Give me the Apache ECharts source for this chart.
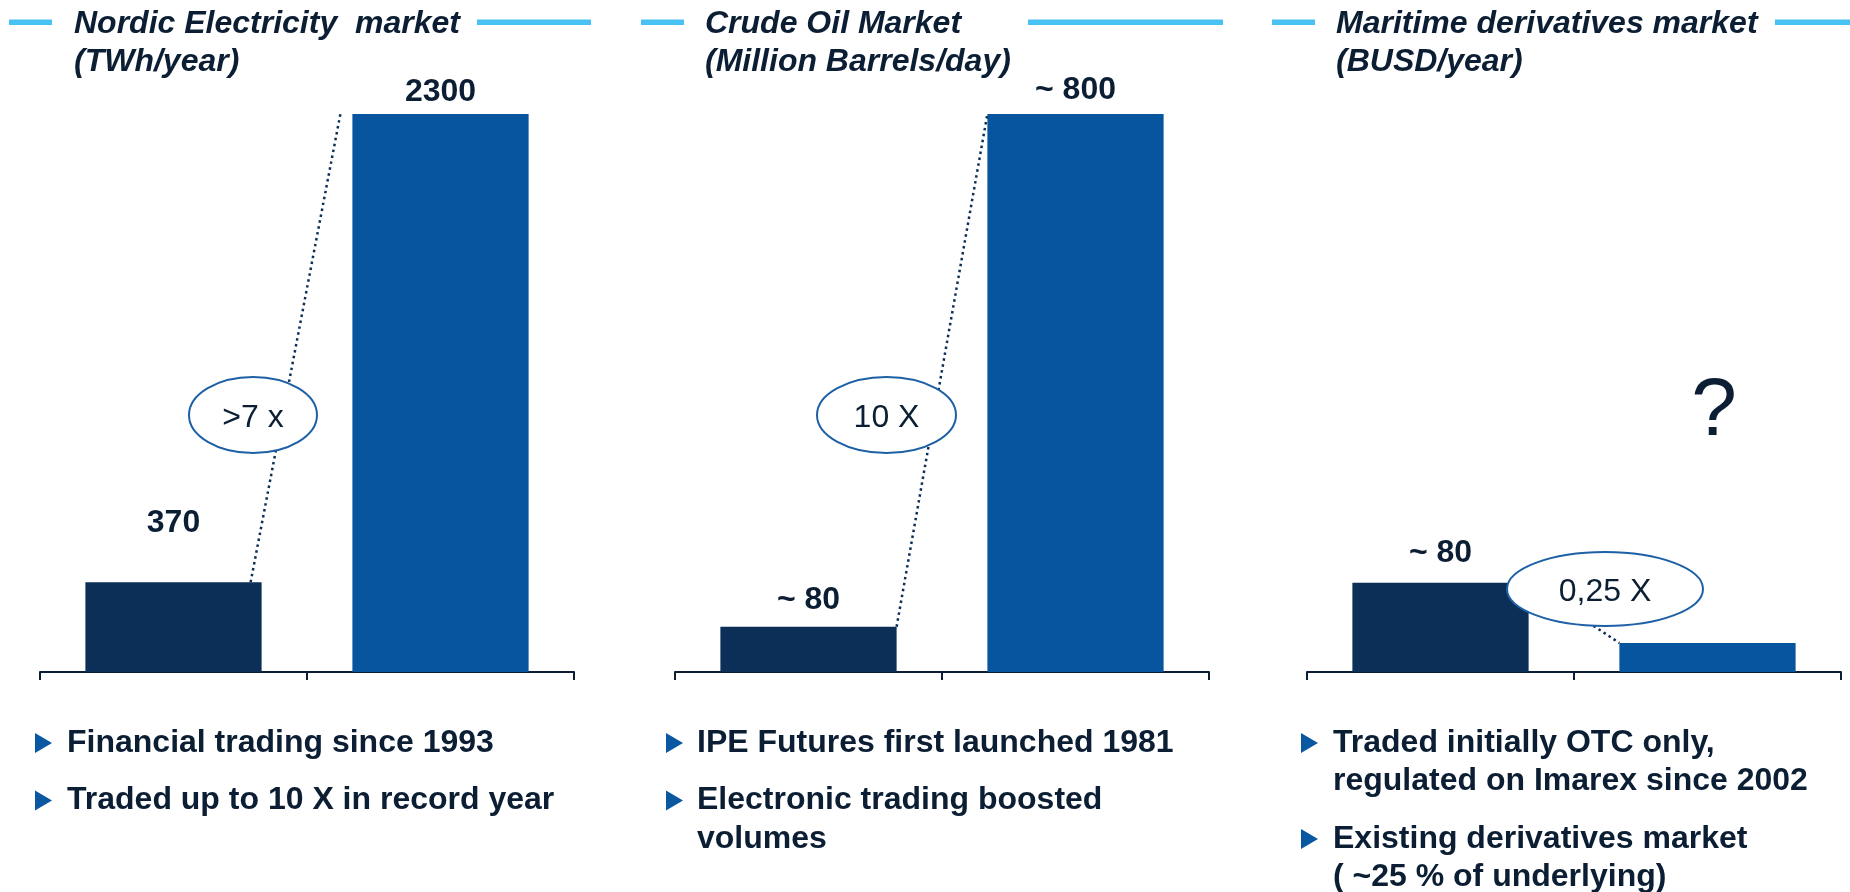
<!DOCTYPE html>
<html><head><meta charset="utf-8">
<script src="https://cdn.jsdelivr.net/npm/echarts@6/dist/echarts.min.js"></script>
<style>html,body{margin:0;padding:0;background:#fff}#c{width:1850px;height:892px}</style>
</head><body><div id="c"></div>
<script>
// ---------- DATA ----------
const categories = ['Underlying', 'Derivatives'];
const nordicValues = [370, 2300];
const crudeValues = [65, 800];
const maritimeValues = [80, 26];
const nordicLabels = ['370', '2300'];
const crudeLabels = ['~ 80', '~ 800'];
const maritimeLabels = ['~ 80', ''];
const multipleLabels = ['>7 x', '10 X', '0,25 X'];
const titleLines = [
  ['Nordic Electricity  market', '(TWh/year)'],
  ['Crude Oil Market', '(Million Barrels/day)'],
  ['Maritime derivatives market', '(BUSD/year)']
];
const bulletPoints = [
  [['Financial trading since 1993'], ['Traded up to 10 X in record year']],
  [['IPE Futures first launched 1981'], ['Electronic trading boosted', 'volumes']],
  [['Traded initially OTC only,', 'regulated on Imarex since 2002'], ['Existing derivatives market', '( ~25 % of underlying)']]
];
const unknownMark = '?';

// ---------- STYLE / LAYOUT ----------
const FONT = '"Liberation Sans", Arial, Helvetica, sans-serif';
const TXT = '#0b1e33';
const DARK = '#0b2f56';
const BLUE = '#07559e';
const SKY = '#48c2f2';
const RING = '#1d60a6';
const TRI = '#0a57a2';
const gridLeft = [40, 675, 1307];
const gridWidth = 534;
const gridTop = 114, gridHeight = 558;
const yMax = [2300, 800, 500];
const labelDist = [[43, 6], [10, 8], [14, 0]];
const titleX = [74, 705, 1336];
const skyLines = [[9, 52, 477, 591], [641, 684, 1028, 1223], [1272, 1315, 1775, 1850]];
const ellipses = [[253, 415, 64, 38], [886.5, 415, 69.5, 38], [1605, 589, 98, 37]];
const connOffset = [[-11, -12], [0, 0], [0, 0]];
const triX = [35, 666, 1301];
const bulletX = [67, 697, 1333];

const allValues = [nordicValues, crudeValues, maritimeValues];
const allLabels = [nordicLabels, crudeLabels, maritimeLabels];

const chart = echarts.init(document.getElementById('c'), null, {renderer: 'canvas'});

const grids = [], xAxes = [], yAxes = [], series = [];
for (let i = 0; i < 3; i++) {
  grids.push({left: gridLeft[i], width: gridWidth, top: gridTop, height: gridHeight, containLabel: false});
  xAxes.push({
    type: 'category', gridIndex: i, data: categories, boundaryGap: true,
    axisLine: {show: true, lineStyle: {color: TXT, width: 2}},
    axisTick: {show: true, length: 8, lineStyle: {color: TXT, width: 2}},
    axisLabel: {show: false}, splitLine: {show: false}
  });
  yAxes.push({type: 'value', gridIndex: i, min: 0, max: yMax[i], show: false, splitLine: {show: false}});
  series.push({
    type: 'bar', xAxisIndex: i, yAxisIndex: i, barWidth: '66%', silent: true,
    data: allValues[i].map((v, j) => ({
      value: v,
      itemStyle: {color: j === 0 ? DARK : BLUE},
      label: {
        show: allLabels[i][j] !== '', position: 'top', distance: labelDist[i][j],
        formatter: allLabels[i][j], color: TXT, fontSize: 32, fontWeight: 'bold',
        fontFamily: FONT, lineHeight: 32
      }
    }))
  });
}

chart.setOption({
  animation: false,
  backgroundColor: '#ffffff',
  grid: grids, xAxis: xAxes, yAxis: yAxes, series: series
});

// ---------- ANNOTATIONS ----------
const g = [];
for (let i = 0; i < 3; i++) {
  g.push({type: 'text', z: 30, style: {
    text: titleLines[i].join('\n'), x: titleX[i], y: 5, fill: TXT,
    fontSize: 32, fontWeight: 'bold', fontStyle: 'italic', fontFamily: FONT,
    lineHeight: 38, textAlign: 'left', textVerticalAlign: 'top'
  }});
  const s = skyLines[i];
  g.push({type: 'rect', z: 30, shape: {x: s[0], y: 19.5, width: s[1] - s[0], height: 5.5}, style: {fill: SKY}});
  g.push({type: 'rect', z: 30, shape: {x: s[2], y: 19.5, width: s[3] - s[2], height: 5.5}, style: {fill: SKY}});

  const p0 = chart.convertToPixel({xAxisIndex: i, yAxisIndex: i}, [0, allValues[i][0]]);
  const p1 = chart.convertToPixel({xAxisIndex: i, yAxisIndex: i}, [1, allValues[i][1]]);
  const band = p1[0] - p0[0];
  const half = band * 0.33;
  g.push({type: 'line', z: 10, shape: {
      x1: p0[0] + half + connOffset[i][0], y1: p0[1],
      x2: p1[0] - half + connOffset[i][1], y2: p1[1]},
    style: {stroke: DARK, lineWidth: 2.5, lineDash: [2.5, 3.5]}});

  const e = ellipses[i];
  g.push({type: 'ellipse', z: 20, shape: {cx: e[0], cy: e[1], rx: e[2], ry: e[3]},
    style: {fill: '#ffffff', stroke: RING, lineWidth: 2}});
  g.push({type: 'text', z: 21, style: {
    text: multipleLabels[i], x: e[0], y: e[1] + 3, fill: TXT, fontSize: 32,
    fontFamily: FONT, textAlign: 'center', textVerticalAlign: 'middle'
  }});

  let y = 743;
  bulletPoints[i].forEach((para) => {
    g.push({type: 'polygon', z: 30, shape: {points: [[triX[i], y - 10], [triX[i] + 17, y], [triX[i], y + 10]]},
      style: {fill: TRI}});
    para.forEach((line, k) => {
      g.push({type: 'text', z: 30, style: {
        text: line, x: bulletX[i], y: y + k * 38.5, fill: TXT, fontSize: 32, fontWeight: 'bold',
        fontFamily: FONT, textAlign: 'left', textVerticalAlign: 'middle'
      }});
    });
    y += (para.length - 1) * 38.5 + 57.5;
  });
}
g.push({type: 'text', z: 30, style: {
  text: unknownMark, x: 1714, y: 412, fill: TXT, fontSize: 82, fontFamily: FONT,
  textAlign: 'center', textVerticalAlign: 'middle'
}});

chart.setOption({graphic: {elements: g}});
</script>
</body></html>
